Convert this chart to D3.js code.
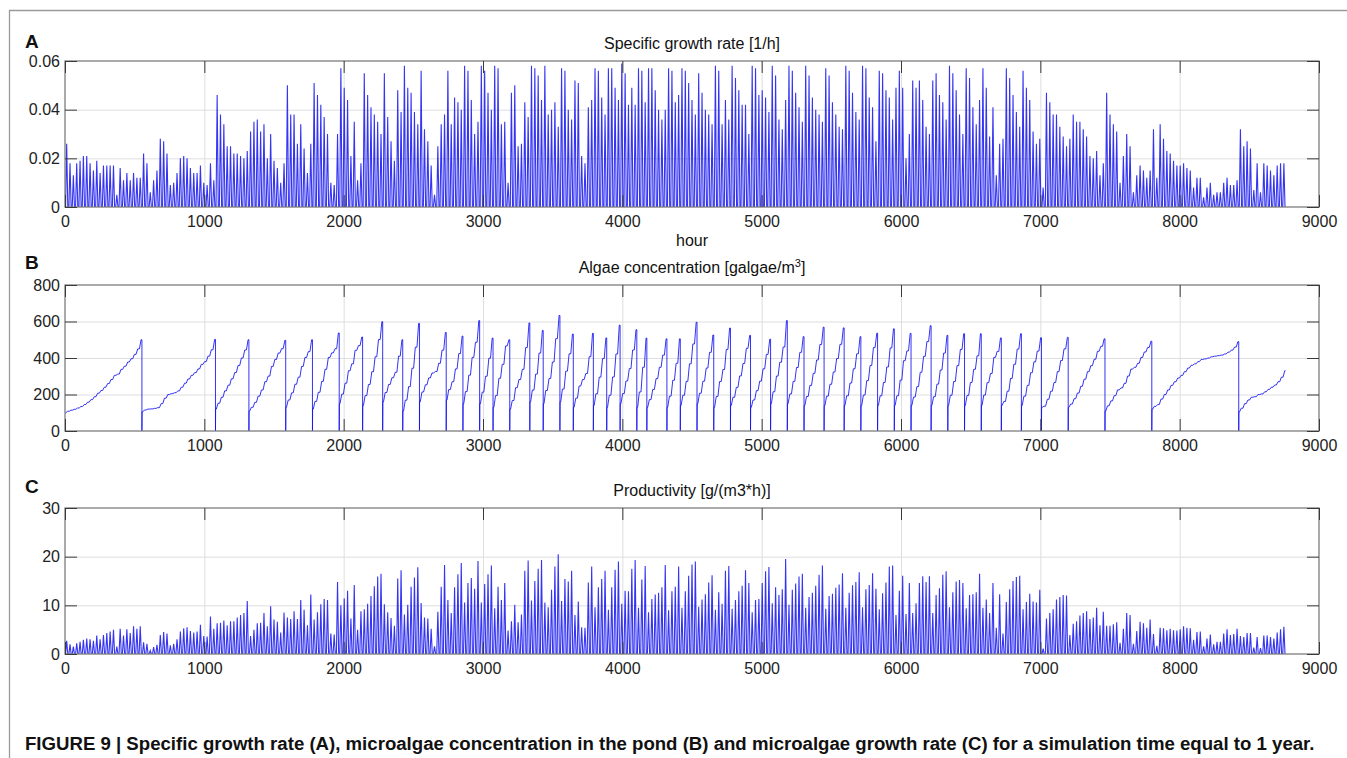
<!DOCTYPE html>
<html><head><meta charset="utf-8">
<script src="https://cdn.jsdelivr.net/npm/d3@7"></script>
<style>
html,body{margin:0;padding:0;background:#fff;}
svg{display:block;font-family:"Liberation Sans",Arial,sans-serif;}
</style></head><body>
<svg id="chart" width="1347" height="758"></svg>
<script>
// ---------------- data ----------------
const hourTicks = [0,1000,2000,3000,4000,5000,6000,7000,8000,9000];
const growthTicks = [0,0.02,0.04,0.06];
const algaeTicks = [0,200,400,600,800];
const prodTicks = [0,10,20,30];

// daily peak of the specific growth rate [1/h], day 0 .. 364
const growthRatePeak = [
.026,.018,.013,.018,.019,.021,.021,.018,.015,.019,.014,.017,.017,.017,.017,.005,.016,.011,.014,.011,.014,.012,.012,
.022,.018,.006,.011,.015,.028,.027,.022,.009,.010,.014,.020,.021,.020,.016,.014,.014,.017,.010,.009,.018,.011,
.046,.038,.034,.025,.025,.022,.022,.021,.020,.023,.031,.035,.036,.031,.034,.020,.030,.019,.016,.010,.018,
.050,.038,.038,.026,.034,.024,.014,.026,.051,.046,.042,.037,.030,.010,.009,.030,.057,.049,.044,.021,.035,.011,.018,
.055,.046,.041,.038,.035,.030,.055,.037,.027,.019,.048,.039,.058,.049,.047,.039,.034,.056,.032,.027,.017,.005,.025,.034,.038,.056,
.034,.045,.043,.040,.058,.056,.044,.030,.035,.058,.056,.047,.040,.058,.057,.034,.035,.010,.047,.050,
.025,.026,.043,.037,.058,.057,.054,.044,.058,.038,.040,.043,.033,.057,.056,.040,.036,.052,.051,.021,
.018,.041,.044,.057,.056,.045,.038,.057,.057,.049,.044,.059,.055,.042,.049,.042,.057,.056,.043,.057,
.057,.048,.040,.036,.040,.057,.056,.043,.046,.057,.056,.051,.044,.038,.055,.047,.040,.038,.034,.058,
.056,.034,.044,.036,.058,.053,.048,.042,.042,.030,.058,.057,.046,.048,.045,.039,.058,.054,.036,.032,
.044,.058,.056,.047,.041,.035,.058,.054,.045,.040,.038,.035,.057,.054,.043,.038,.033,.032,.058,.056,
.047,.039,.036,.058,.057,.045,.041,.027,.056,.055,.048,.045,
.036,.049,.056,.049,.020,.030,.052,.049,.052,.044,.033,.030,.052,.055,.046,.043,.036,.058,.055,.048,
.038,.030,.057,.053,.041,.034,.044,.057,.049,.029,.041,.013,.026,.028,.057,.053,.046,.039,.033,.056,
.049,.044,.031,.026,.028,.008,.047,.043,.038,.038,.033,.029,.025,.028,.038,.035,.035,.032,.029,.021,
.020,.023,.013,.018,.047,.038,.034,.031,.010,.021,.030,.025,.006,.013,.017,.015,.012,.015,.032,.012,
.034,.028,.023,.022,.019,.017,.017,.018,.016,.015,.008,.012,.012,.004,.008,.010,.005,.006,.006,.010,
.012,.009,.009,.011,.032,.025,.027,.024,.007,.018,.006,.018,.017,.015,.013,.017,.018,.018
];

// algae concentration at the end of each day's light period [g/m3], day 0 .. 364
const algaeEndOfDay = [
108,114,119,126,134,145,158,172,188,207,222,240,260,282,305,312,338,355,378,396,420,450,500,
115,120,121,124,128,150,180,200,205,210,220,240,262,285,305,320,340,365,380,410,445,502,
152,185,220,251,286,320,359,400,444,500,
130,157,191,225,270,301,354,392,427,451,497,
170,209,256,295,354,403,435,500,
162,212,272,338,403,428,451,537,
202,262,330,368,442,468,515,
194,255,325,407,501,599,
211,255,292,322,410,500,
169,243,344,459,590,
214,253,291,318,326,371,443,540,
227,270,340,424,520,
216,306,403,486,605,
213,300,399,509,
194,289,365,466,500,
167,237,282,338,457,592,
224,312,427,551,
222,288,378,506,633,
230,328,423,531,
180,247,282,315,407,535,
204,295,397,510,
196,296,422,580,
205,274,342,444,555,
214,349,509,
172,227,287,349,416,505,
191,278,371,505,
196,272,368,477,596,
207,273,345,431,526,
189,271,337,447,564,
185,239,302,370,453,524,
170,221,273,341,420,503,
215,301,377,460,605,
203,272,348,431,517,
189,250,316,389,474,569,
191,256,323,397,475,565,
193,263,341,423,517,
197,276,359,457,536,
193,266,351,455,560,
193,279,385,439,535,
186,243,322,409,490,577,
188,257,334,427,524,
196,271,358,447,533,
195,266,338,412,533,
197,265,315,403,436,510,
162,218,288,366,449,533,
191,250,319,379,438,511,
136,174,218,266,325,386,450,513,
148,177,208,245,284,325,358,393,437,464,505,
138,165,194,225,236,261,301,339,349,371,403,433,458,492,
135,145,175,200,225,250,270,290,305,325,345,360,368,380,392,395,400,407,410,413,416,422,432,443,460,490,
125,150,170,185,188,200,203,215,228,240,252,270,295,330
];

// days at whose start the pond is harvested, and the concentration right after
const harvestDays = [23,45,55,66,74,82,89,95,101,106,114,119,124,128,133,139,143,148,152,158,162,166,171,174,180,
  184,189,194,199,205,211,216,221,227,233,238,243,248,253,259,264,269,274,280,286,292,300,311,325,351];
const initialAlgae = 100;
const algaeAfterHarvest = [105,120,110,130,120,150,140,160,110,160,170,150,150,130,120,160,150,160,130,140,130,150,130,130,130,
  140,150,130,140,130,150,150,140,140,140,140,140,140,140,140,140,140,140,140,140,130,130,110,120,105];

// daily peak productivity [g/(m3*h)], day 0 .. 364
const productivityPeak = [
2.7,2.0,1.5,2.2,2.5,2.9,3.2,3.0,2.7,3.8,3.0,3.9,4.3,4.6,5.0,1.5,5.2,3.8,5.1,4.3,5.7,5.2,5.7,
2.4,2.1,0.7,1.4,1.9,3.9,4.5,4.2,1.8,2.1,3.0,4.6,5.3,5.5,4.7,4.4,4.6,6.0,3.7,3.6,7.7,5.2,
6.3,6.4,6.9,5.9,6.7,6.7,7.5,8.0,8.4,10.9,
3.7,5.0,6.3,6.4,8.4,5.7,9.8,7.1,6.6,4.4,8.5,
7.5,7.2,8.8,7.2,11.1,9.1,5.9,12.2,
7.1,8.6,10.2,11.3,11.1,4.2,4.0,14.8,
10.0,11.4,13.0,7.3,14.2,5.0,8.8,
9.2,10.3,11.9,13.9,15.9,16.5,
10.2,8.6,7.4,5.8,15.5,17.2,
8.1,10.1,13.8,15.7,17.8,
10.5,7.5,7.3,5.2,1.6,8.7,13.8,18.3,
11.1,8.4,13.7,16.4,18.7,
10.6,14.6,15.6,13.4,19.1,
10.6,14.4,16.4,18.2,
9.4,13.8,11.1,14.6,4.8,
6.7,10.1,6.5,8.1,17.1,19.2,
11.0,15.0,17.5,19.3,
10.6,9.6,13.2,18.0,20.5,
10.9,15.4,14.9,17.1,
8.0,10.8,5.5,5.4,14.7,18.0,
9.6,13.7,15.4,17.1,
9.1,13.7,17.3,19.0,
10.3,13.0,12.9,17.5,19.3,
9.5,15.3,18.1,
8.6,11.3,12.2,12.6,13.7,18.3,
9.0,12.9,13.8,18.0,
9.5,12.9,16.1,18.4,19.0,
9.7,11.2,12.3,14.7,16.2,
9.1,12.7,10.3,17.1,18.1,
9.3,11.1,12.9,14.0,17.2,14.6,
8.6,11.1,11.3,14.6,17.0,17.9,
10.4,13.7,12.1,13.3,19.5,
10.1,13.2,14.5,15.9,16.5,
9.5,11.7,12.6,14.0,16.3,18.2,
9.3,11.9,12.4,13.6,14.3,16.6,
9.5,12.6,14.1,14.8,16.8,
9.6,13.3,14.2,16.6,13.4,
9.2,12.5,14.7,18.0,18.2,
8.0,13.0,16.1,8.2,14.6,
8.4,10.4,14.6,16.0,14.8,16.0,
8.4,12.1,13.5,16.3,17.0,
9.6,12.7,14.9,15.2,14.6,
9.4,12.1,12.3,12.7,16.5,
9.5,11.2,8.4,14.6,5.4,12.3,
4.2,10.7,13.3,15.0,15.8,16.1,
9.2,10.7,12.4,10.8,10.6,13.2,
1.1,7.3,8.4,9.2,11.2,11.7,12.1,12.0,
3.9,6.2,6.7,7.9,8.4,8.8,7.2,7.5,9.5,5.9,8.7,
5.8,5.8,6.1,6.5,2.3,5.2,8.4,8.0,2.1,4.7,6.6,6.3,5.4,7.1,
4.1,1.7,5.4,5.3,4.9,5.2,4.9,4.8,5.1,5.7,5.4,5.3,2.9,4.5,4.6,1.6,3.2,4.0,2.0,2.5,2.5,4.2,5.1,3.9,4.1,5.2,
3.7,3.5,4.3,4.3,1.3,3.5,1.2,3.8,3.8,3.5,3.2,4.4,5.1,5.6
];

const titles = ["Specific growth rate [1/h]", "Algae concentration [galgae/m", "Productivity [g/(m3*h)]"];

if (growthRatePeak.length !== 365 || algaeEndOfDay.length !== 365 || productivityPeak.length !== 365 ||
    harvestDays.length !== algaeAfterHarvest.length) {
  throw new Error("length mismatch " + growthRatePeak.length + " " + algaeEndOfDay.length + " " + productivityPeak.length);
}

// ---------------- layout ----------------
const HOURS_PER_DAY = 24, SUNRISE = 4, NOON = 12, SUNSET = 20;
const GROW_START = 6, GROW_END = 18;
const xL = 65, xR = 1319, PH = 146;
const svg = d3.select("#chart");
const x = d3.scaleLinear().domain([0, 9000]).range([xL, xR]);

const LINE = "#1010f0";
const FONT = 16;

// figure frame
svg.append("line").attr("x1", 9).attr("x2", 1347).attr("y1", 10.5).attr("y2", 10.5)
  .attr("stroke", "#9a9a9a").attr("stroke-width", 1.3);
svg.append("line").attr("x1", 9.5).attr("x2", 9.5).attr("y1", 10).attr("y2", 758)
  .attr("stroke", "#9a9a9a").attr("stroke-width", 1.3);

function spikePoints(values) {
  const pts = [];
  values.forEach((v, d) => {
    const h0 = d * HOURS_PER_DAY;
    pts.push([h0 + SUNRISE, 0], [h0 + NOON, v], [h0 + SUNSET, 0]);
  });
  return pts;
}

function algaePoints() {
  const pts = [[0, initialAlgae]];
  let prev = initialAlgae;
  algaeEndOfDay.forEach((v, d) => {
    const h0 = d * HOURS_PER_DAY;
    const hi = harvestDays.indexOf(d);
    if (hi >= 0) {
      pts.push([h0, prev], [h0, 0], [h0 + 1, algaeAfterHarvest[hi]]);
      prev = algaeAfterHarvest[hi];
    }
    pts.push([h0 + GROW_START, prev], [h0 + GROW_END, v]);
    prev = v;
  });
  pts.push([365 * HOURS_PER_DAY, prev]);
  return pts;
}

function panel(cfg) {
  const top = cfg.top, bottom = top + PH;
  const y = d3.scaleLinear().domain(cfg.domain).range([bottom, top]);
  const g = svg.append("g");

  // grid
  const gx = g.append("g").attr("transform", `translate(0,${bottom})`)
    .call(d3.axisBottom(x).tickValues(hourTicks.slice(1, -1)).tickSize(-PH).tickFormat(""));
  const gy = g.append("g").attr("transform", `translate(${xL},0)`)
    .call(d3.axisLeft(y).tickValues(cfg.ticks.slice(1, -1)).tickSize(-(xR - xL)).tickFormat(""));
  [gx, gy].forEach(a => {
    a.select(".domain").remove();
    a.selectAll("line").attr("stroke", "#dedede").attr("stroke-width", 1);
  });

  // data
  const clipId = "clip" + cfg.letter;
  svg.append("clipPath").attr("id", clipId).append("rect")
    .attr("x", xL).attr("y", top - 1).attr("width", xR - xL).attr("height", PH + 1);
  g.append("path")
    .attr("clip-path", `url(#${clipId})`)
    .attr("d", d3.line().x(p => x(p[0])).y(p => y(p[1]))(cfg.points))
    .attr("fill", "none").attr("stroke", LINE).attr("stroke-width", cfg.lw)
    .attr("stroke-linejoin", "miter").attr("stroke-opacity", 0.85);

  // box
  g.append("rect").attr("x", xL).attr("y", top).attr("width", xR - xL).attr("height", PH)
    .attr("fill", "none").attr("stroke", "#7d7d7d").attr("stroke-width", 1.3);

  // axes with inward ticks
  const styleAxis = a => {
    a.select(".domain").remove();
    a.selectAll("line").attr("stroke", "#3a3a3a").attr("stroke-width", 1);
    a.selectAll("text").attr("fill", "#222").style("font-size", FONT + "px")
      .style("font-family", '"Liberation Sans", Arial, sans-serif');
  };
  styleAxis(g.append("g").attr("transform", `translate(0,${bottom})`)
    .call(d3.axisBottom(x).tickValues(hourTicks).tickSizeInner(-12).tickSizeOuter(0)
      .tickPadding(9).tickFormat(d => String(d))));
  styleAxis(g.append("g").attr("transform", `translate(0,${top})`)
    .call(d3.axisTop(x).tickValues(hourTicks).tickSizeInner(-12).tickSizeOuter(0).tickFormat("")));
  styleAxis(g.append("g").attr("transform", `translate(${xL},0)`)
    .call(d3.axisLeft(y).tickValues(cfg.ticks).tickSizeInner(-12).tickSizeOuter(0)
      .tickPadding(5).tickFormat(d => String(d))));
  styleAxis(g.append("g").attr("transform", `translate(${xR},0)`)
    .call(d3.axisRight(y).tickValues(cfg.ticks).tickSizeInner(-12).tickSizeOuter(0).tickFormat("")));

  // title
  const t = g.append("text").attr("x", (xL + xR) / 2).attr("y", top - 12.3)
    .attr("text-anchor", "middle").attr("fill", "#111").style("font-size", "16px")
    .text(cfg.title);
  if (cfg.sup) {
    t.append("tspan").attr("dy", -6).style("font-size", "11px").text(cfg.sup);
    t.append("tspan").attr("dy", 6).text("]");
  }
  // panel letter
  g.append("text").attr("x", 25).attr("y", cfg.letterY).attr("fill", "#111")
    .style("font-size", "19px").style("font-weight", "bold").text(cfg.letter);
  return g;
}

panel({letter: "A", letterY: 48, top: 61, domain: [0, 0.06], ticks: growthTicks, lw: 1.1,
  title: titles[0], points: spikePoints(growthRatePeak)});
panel({letter: "B", letterY: 269, top: 285, domain: [0, 800], ticks: algaeTicks, lw: 1,
  title: titles[1], sup: "3", points: algaePoints()});
panel({letter: "C", letterY: 493, top: 508, domain: [0, 30], ticks: prodTicks, lw: 1.1,
  title: titles[2], points: spikePoints(productivityPeak)});

// x label for panel A
svg.append("text").attr("x", (xL + xR) / 2).attr("y", 246).attr("text-anchor", "middle")
  .attr("fill", "#111").style("font-size", "16px").text("hour");

// caption
const cap = svg.append("text").attr("x", 25).attr("y", 750).attr("fill", "#111")
  .style("font-size", "16px").style("font-weight", "bold")
  .text("FIGURE 9 | Specific growth rate (A), microalgae concentration in the pond (B) and microalgae growth rate (C) for a simulation time equal to 1 year.");
const w = cap.node().getComputedTextLength();
cap.style("font-size", (16 * 1291 / w).toFixed(2) + "px");
</script>
</body></html>
